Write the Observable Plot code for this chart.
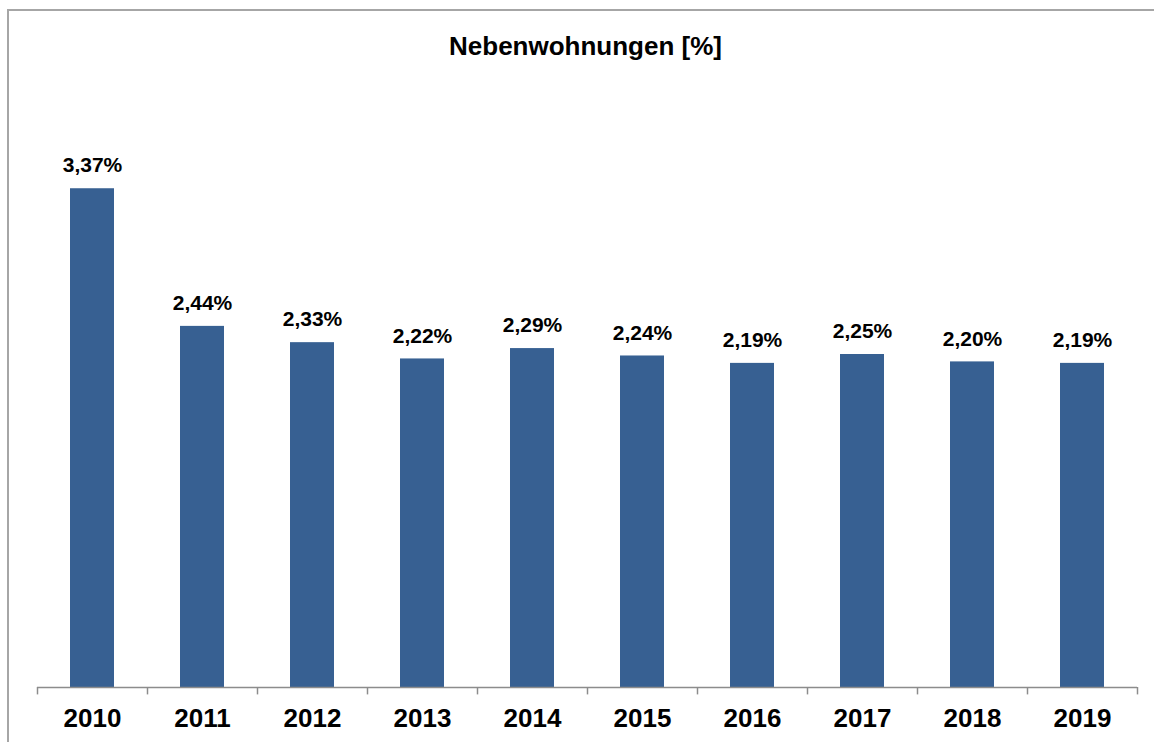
<!DOCTYPE html>
<html>
<head>
<meta charset="utf-8">
<script src="https://cdn.jsdelivr.net/npm/d3@7"></script>
<script src="https://cdn.jsdelivr.net/npm/@observablehq/plot@0.6"></script>
<style>
  html, body { margin: 0; padding: 0; background: #fff; }
  #wrap { position: relative; width: 1154px; height: 742px; overflow: hidden; }
  #frame { position: absolute; left: 7px; top: 9px; width: 1200px; height: 800px;
           border-left: 2px solid #a6a6a6; border-top: 2px solid #a6a6a6; box-sizing: border-box; }
  #chart { position: absolute; left: 0; top: 0; }
</style>
</head>
<body>
<div id="wrap"><div id="frame"></div><div id="chart"></div></div>
<script>
const title = "Nebenwohnungen [%]";
const years = ["2010","2011","2012","2013","2014","2015","2016","2017","2018","2019"];
const values = [3.37, 2.44, 2.33, 2.22, 2.29, 2.24, 2.19, 2.25, 2.20, 2.19];

const data = years.map((y, i) => ({year: y, value: values[i]}));
const fmt = v => v.toFixed(2).replace(".", ",") + "%";
const font = "Liberation Sans, Arial, Helvetica, sans-serif";

const chart = Plot.plot({
  width: 1154,
  height: 742,
  marginLeft: 37,
  marginRight: 17,
  marginTop: 95,
  marginBottom: 55,
  style: {fontFamily: font, background: "transparent"},
  x: {domain: years, paddingInner: 0.6, paddingOuter: 0.3, axis: null},
  y: {domain: [0, 4], axis: null},
  marks: [
    Plot.barY(data, {x: "year", y: "value", fill: "#376092"}),
    Plot.ruleY([0], {stroke: "#8c8c8c", strokeWidth: 1.5}),
    Plot.ruleX(data, {x: "year", y1: 0, y2: -0.05, dx: -55, stroke: "#8c8c8c", strokeWidth: 1.5}),
    Plot.ruleX(data.slice(-1), {x: "year", y1: 0, y2: -0.05, dx: 55, stroke: "#8c8c8c", strokeWidth: 1.5}),
    Plot.text(data, {x: "year", y: "value", text: d => fmt(d.value), dy: -23,
      fontSize: 21, fontWeight: "bold", fill: "#000"}),
    Plot.text(data, {x: "year", y: 0, text: "year", dy: 31,
      fontSize: 26, fontWeight: "bold", fill: "#000"}),
    Plot.text([title], {frameAnchor: "top", lineAnchor: "middle", text: d => d, dy: -49, dx: -2,
      fontSize: 26, fontWeight: "bold", fill: "#000"})
  ]
});
document.getElementById("chart").appendChild(chart);
</script>
</body>
</html>
